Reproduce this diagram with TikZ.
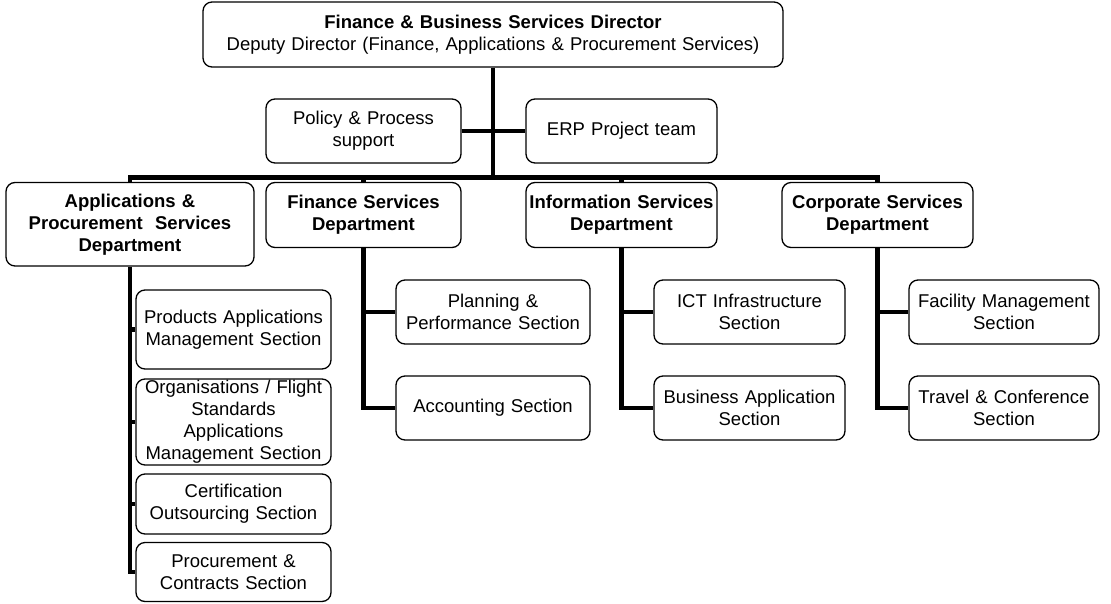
\documentclass[tikz,border=0pt]{standalone}
\usepackage{fontspec}
\setmainfont{Liberation Sans}
\begin{document}
\begin{tikzpicture}[x=1pt,y=-1pt,
  box/.style={draw=black, line width=1.3pt, rounded corners=9pt, inner sep=0pt,
    align=center, font=\fontsize{18.5}{22}\selectfont, fill=white},
  conn/.style={draw=black, line width=4.2pt, line join=miter}]
\useasboundingbox (0,0) rectangle (1111,603);
% top
\node[box, minimum width=580pt, minimum height=65pt, text width=580pt] (top) at (493,34.5)
  {\textbf{Finance \& Business Services Director}\\Deputy Director (Finance, Applications \& Procurement Services)};
\node[box, minimum width=195pt, minimum height=64pt, text width=195pt] (policy) at (363.5,131) {Policy \& Process\\support};
\node[box, minimum width=191pt, minimum height=64pt, text width=191pt] (erp) at (621.5,131) {ERP Project team};
% departments
\node[box, minimum width=248pt, minimum height=83.5pt, text width=248pt, font=\fontsize{18.5}{22}\selectfont\bfseries] (apps) at (130,224.25) {Applications \&\\Procurement\ \ Services\\Department};
\node[box, minimum width=195pt, minimum height=65pt, text width=195pt, font=\fontsize{18.5}{22}\selectfont\bfseries] (fin) at (363.5,215) {Finance Services\\Department};
\node[box, minimum width=191pt, minimum height=65pt, text width=191pt, font=\fontsize{18.5}{22}\selectfont\bfseries] (info) at (621.5,215) {Information Services\\Department};
\node[box, minimum width=191pt, minimum height=65pt, text width=191pt, font=\fontsize{18.5}{22}\selectfont\bfseries] (corp) at (877.5,215) {Corporate Services\\Department};
% sections
\node[box, minimum width=194pt, minimum height=64pt, text width=194pt] (plan) at (493,312) {Planning \&\\Performance Section};
\node[box, minimum width=194pt, minimum height=64pt, text width=194pt] (acct) at (493,408) {Accounting Section};
\node[box, minimum width=191pt, minimum height=64pt, text width=191pt] (ict) at (749.5,312) {ICT Infrastructure\\Section};
\node[box, minimum width=191pt, minimum height=64pt, text width=191pt] (busapp) at (749.5,408) {Business Application\\Section};
\node[box, minimum width=190pt, minimum height=64pt, text width=190pt] (fac) at (1004,312) {Facility Management\\Section};
\node[box, minimum width=190pt, minimum height=64pt, text width=190pt] (trav) at (1004,408) {Travel \& Conference\\Section};
\node[box, minimum width=195pt, minimum height=79pt, text width=195pt] (prod) at (233.5,329.5) {Products Applications\\Management Section};
\node[box, minimum width=195pt, minimum height=86pt, text width=195pt] (org) at (233.5,422) {Organisations / Flight\\Standards\\Applications\\Management Section};
\node[box, minimum width=195pt, minimum height=60pt, text width=195pt] (cert) at (233.5,504) {Certification\\Outsourcing Section};
\node[box, minimum width=195pt, minimum height=59pt, text width=195pt] (proc) at (233.5,572) {Procurement \&\\Contracts Section};
% connectors
\coordinate (b) at (493,177.5);
\draw[conn] (top.south) -- (b);
\draw[conn] (policy.east) -- (erp.west);
\draw[conn] (apps.north) |- (b) -| (corp.north);
\draw[conn] (fin.north) -- (fin.north |- b);
\draw[conn] (info.north) -- (info.north |- b);
\draw[conn] (apps.south) -- (apps.south |- proc.west) -- (proc.west);
\draw[conn] (apps.south |- prod.west) -- (prod.west);
\draw[conn] (apps.south |- org.west) -- (org.west);
\draw[conn] (apps.south |- cert.west) -- (cert.west);
\draw[conn] (fin.south) -- (fin.south |- acct.west) -- (acct.west);
\draw[conn] (fin.south |- plan.west) -- (plan.west);
\draw[conn] (info.south) -- (info.south |- busapp.west) -- (busapp.west);
\draw[conn] (info.south |- ict.west) -- (ict.west);
\draw[conn] (corp.south) -- (corp.south |- trav.west) -- (trav.west);
\draw[conn] (corp.south |- fac.west) -- (fac.west);
\end{tikzpicture}
\end{document}
